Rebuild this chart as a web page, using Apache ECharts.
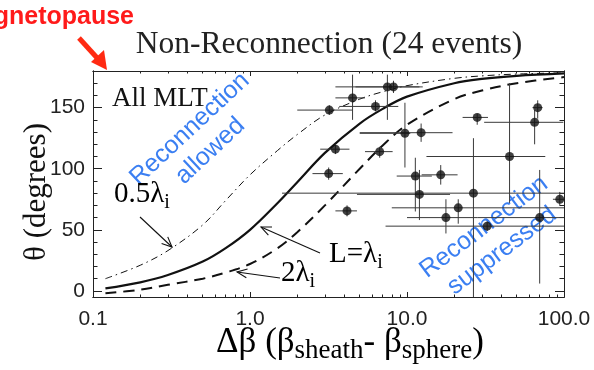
<!DOCTYPE html>
<html>
<head>
<meta charset="utf-8">
<script src="https://cdn.jsdelivr.net/npm/echarts@6/dist/echarts.min.js"></script>
<style>
  html, body { margin: 0; padding: 0; background: #ffffff; }
  #chart { width: 594px; height: 370px; }
</style>
</head>
<body>
<div id="chart"></div>
<script>
// ---- axis ticks ----
const xMajorTicks = [0.1, 1, 10, 100];
const xMinorTicks = [0.2, 0.3, 0.4, 0.5, 0.6, 0.7, 0.8, 0.9,
                     2, 3, 4, 5, 6, 7, 8, 9,
                     20, 30, 40, 50, 60, 70, 80, 90];
const yMajorTicks = [0, 50, 100, 150];
const yMinorTicks = [10, 20, 30, 40, 60, 70, 80, 90, 110, 120, 130, 140, 160, 170, 180];

// ---- theoretical suppression curves (delta beta vs shear angle) ----
const curveDb      = [0.12, 0.2, 0.3, 0.5, 0.7, 1.0, 1.5, 2, 3, 5, 7, 10, 20, 30, 50, 100];
const thetaHalfLi  = [10, 21, 33, 54, 74, 95, 115, 128, 144, 157, 163, 168, 174, 176, 177.5, 178.5];
const thetaLi      = [2, 7, 13, 24, 35, 50, 72, 89, 113, 137, 149, 159, 170, 173.5, 176, 178];
const theta2Li     = [-2, 1, 5, 10, 15, 22, 35, 48, 70, 100, 119, 136, 157, 164, 170, 175];

// ---- events: delta beta, shear angle and their ranges ----
const evDb    = [3.2, 4.5, 7.5, 8.2, 6.3, 28, 68, 65, 9.7, 12.3, 3.5, 6.7, 45, 3.17, 11.3, 16.4, 12, 26.5, 21.2, 17.7, 32.4, 70, 94, 4.15];
const evTheta = [148, 158, 167, 167, 151, 142, 150, 138, 129, 129.5, 116, 114, 110, 96, 94, 95, 79, 80, 68, 60, 53, 60, 75, 65.5];
const dbLo    = [2.0, 3.5, 3.5, 4.7, 3.7, 22.6, 63, 31, 5.0, 5.0, 2.8, 5.4, 13.3, 2.5, 8.6, 12.4, 4.8, 1.6, 8, 10, 7.3, 28, 85, 3.5];
const dbHi    = [4.5, 5.4, 12, 12.6, 8.8, 32.8, 73, 99, 10.5, 19.5, 4.3, 8.1, 76, 3.9, 14.4, 21, 18.8, 100, 100, 28, 100, 100, 100, 4.8];
const thLo    = [144, 140, 140, 162, 147, 136, 141, 120, 101, 122, 112, 109, 72, 91, 65, 87, 58, -5, 55, 47, 49, 6, 70, 61];
const thHi    = [152, 177, 177, 172, 156, 145, 156, 148, 154, 137, 120, 118, 170, 101, 109, 103, 99, 125, 75, 75, 57, 99, 81, 70];

const SERIF = '"Liberation Serif", "DejaVu Serif", serif';
const SANS = '"Liberation Sans", Arial, sans-serif';
const BLUE = '#3b7ff2';
const FRAME = '#222222';

const X_MIN = 0.1, X_MAX = 100, Y_MIN = -5, Y_MAX = 180;

function xAxis(position, ticks, len, withLabels) {
  return {
    type: 'log', logBase: 10, min: X_MIN, max: X_MAX, position: position,
    axisLine: { show: true, onZero: false, lineStyle: { color: FRAME, width: 1 } },
    axisTick: { show: true, inside: true, length: len, customValues: ticks, lineStyle: { color: FRAME, width: 1 } },
    axisLabel: withLabels ? {
      show: true, customValues: xMajorTicks, margin: 12,
      color: '#222', fontFamily: SANS, fontSize: 21,
      formatter: function (v) { return Number(v).toFixed(1); }
    } : { show: false },
    splitLine: { show: false }, minorTick: { show: false }, minorSplitLine: { show: false }
  };
}
function yAxis(position, ticks, len, withLabels) {
  return {
    type: 'value', min: Y_MIN, max: Y_MAX, position: position,
    axisLine: { show: true, onZero: false, lineStyle: { color: FRAME, width: 1 } },
    axisTick: { show: true, inside: true, length: len, customValues: ticks, lineStyle: { color: FRAME, width: 1 } },
    axisLabel: withLabels ? {
      show: true, customValues: yMajorTicks, margin: 8,
      color: '#222', fontFamily: SANS, fontSize: 21
    } : { show: false },
    splitLine: { show: false }, minorTick: { show: false }, minorSplitLine: { show: false }
  };
}

const events = evDb.map((d, i) => [d, evTheta[i], dbLo[i], dbHi[i], thLo[i], thHi[i]]);

function curve(name, values, lineStyle) {
  return {
    name: name, type: 'line', xAxisIndex: 0, yAxisIndex: 0,
    data: curveDb.map((d, i) => [d, values[i]]),
    smooth: 0.35, showSymbol: false, symbol: 'none', silent: true, clip: true,
    lineStyle: lineStyle, z: 3
  };
}

// annotation arrows with open heads
function arrow(x1, y1, x2, y2, head) {
  const a = Math.atan2(y2 - y1, x2 - x1);
  const s = head, w = 0.42;
  return [
    { type: 'line', shape: { x1: x1, y1: y1, x2: x2, y2: y2 }, style: { stroke: '#111', lineWidth: 1.1 }, z: 20 },
    { type: 'polyline', shape: { points: [
        [x2 - s * Math.cos(a - w), y2 - s * Math.sin(a - w)], [x2, y2],
        [x2 - s * Math.cos(a + w), y2 - s * Math.sin(a + w)]] },
      style: { stroke: '#111', lineWidth: 1.1, fill: null }, z: 20 }
  ];
}

const chart = echarts.init(document.getElementById('chart'), null, { renderer: 'canvas' });

const subRich = function (size, subSize, drop) {
  return {
    m: { fontFamily: SERIF, fontSize: size, color: '#111', lineHeight: size + 4, verticalAlign: 'top' },
    s: { fontFamily: SERIF, fontSize: subSize, color: '#111', lineHeight: subSize, verticalAlign: 'bottom', padding: [drop, 0, 0, 0] }
  };
};

const option = {
  backgroundColor: '#ffffff',
  animation: false,
  grid: { left: 93, right: 30, top: 71, bottom: 73, containLabel: false, outerBoundsMode: 'none', show: false },
  xAxis: [
    xAxis('bottom', xMajorTicks, 5, true),
    xAxis('bottom', xMinorTicks, 2.5, false),
    xAxis('top', xMajorTicks, 5, false),
    xAxis('top', xMinorTicks, 2.5, false)
  ],
  yAxis: [
    yAxis('left', yMajorTicks, 9, true),
    yAxis('left', yMinorTicks, 4.5, false),
    yAxis('right', yMajorTicks, 9, false),
    yAxis('right', yMinorTicks, 4.5, false)
  ],
  series: [
    curve('0.5 lambda_i', thetaHalfLi, { color: '#111', width: 1, type: [7, 4, 1.5, 4] }),
    curve('lambda_i', thetaLi, { color: '#111', width: 2.2, type: 'solid' }),
    curve('2 lambda_i', theta2Li, { color: '#111', width: 2, type: [11, 7] }),
    {
      name: 'ranges', type: 'custom', xAxisIndex: 0, yAxisIndex: 0, clip: true, silent: true, z: 4,
      data: events,
      encode: { x: 0, y: 1 },
      renderItem: function (params, api) {
        const x = api.value(0), y = api.value(1);
        const pl = api.coord([api.value(2), y]), pr = api.coord([api.value(3), y]);
        const pb = api.coord([x, api.value(4)]), pt = api.coord([x, api.value(5)]);
        return {
          type: 'group',
          children: [
            { type: 'line', shape: { x1: pl[0], y1: pl[1], x2: pr[0], y2: pr[1] }, style: { stroke: '#3a3a3a', lineWidth: 1 } },
            { type: 'line', shape: { x1: pb[0], y1: pb[1], x2: pt[0], y2: pt[1] }, style: { stroke: '#3a3a3a', lineWidth: 1 } }
          ]
        };
      }
    },
    {
      name: 'events', type: 'scatter', xAxisIndex: 0, yAxisIndex: 0, z: 5, silent: true,
      data: events.map(e => [e[0], e[1]]),
      symbol: 'circle', symbolSize: 9,
      itemStyle: { color: '#111', borderWidth: 0 }
    }
  ],
  graphic: [
    // title
    { type: 'text', x: 329, y: 45, style: { text: 'Non-Reconnection (24 events)', fontFamily: SERIF, fontSize: 31.5, fill: '#222', align: 'center', verticalAlign: 'middle' } },
    // magnetopause marker
    { type: 'text', x: 134, y: 17, style: { text: 'Magnetopause', fontFamily: SANS, fontWeight: 'bold', fontSize: 25, fill: '#ff1a1a', align: 'right', verticalAlign: 'middle' } },
    { type: 'line', shape: { x1: 79, y1: 38, x2: 99, y2: 60 }, style: { stroke: '#ff2a12', lineWidth: 5 } },
    { type: 'polygon', shape: { points: [[107, 70], [91, 62], [104, 50]] }, style: { fill: '#ff2a12' } },
    // panel label
    { type: 'text', x: 112, y: 112, style: { text: 'All MLT', fontFamily: SERIF, fontSize: 27, fill: '#111', align: 'left', verticalAlign: 'bottom' } },
    // region labels
    { type: 'text', x: 200, y: 140, rotation: 43 * Math.PI / 180,
      style: { text: 'Reconnection\nallowed', fontFamily: SANS, fontSize: 25, lineHeight: 30, fill: BLUE, align: 'center', verticalAlign: 'middle' } },
    { type: 'text', x: 493, y: 239, rotation: 37 * Math.PI / 180,
      style: { text: 'Reconnection\nsuppressed', fontFamily: SANS, fontSize: 25, lineHeight: 30, fill: BLUE, align: 'center', verticalAlign: 'middle' } },
    // curve labels
    { type: 'text', x: 114, y: 180, style: { text: '{m|0.5λ}{s|i}', rich: subRich(29, 20, 15), align: 'left', verticalAlign: 'top' } },
    { type: 'text', x: 329, y: 240, style: { text: '{m|L=λ}{s|i}', rich: subRich(29, 20, 15), align: 'left', verticalAlign: 'top' } },
    { type: 'text', x: 281, y: 259, style: { text: '{m|2λ}{s|i}', rich: subRich(29, 20, 15), align: 'left', verticalAlign: 'top' } },
    ...arrow(140, 217, 172, 247, 11),
    ...arrow(320, 253, 261, 227, 11),
    ...arrow(280, 278, 237, 272, 11),
    // axis titles
    { type: 'text', x: 37, y: 192, rotation: Math.PI / 2,
      style: { text: 'θ (degrees)', fontFamily: SERIF, fontSize: 31, fill: '#111', align: 'center', verticalAlign: 'middle' } },
    { type: 'text', x: 350, y: 325,
      style: { text: '{m|Δβ (β}{s|sheath}{m|- β}{s|sphere}{m|)}', rich: subRich(35, 27, 14), align: 'center', verticalAlign: 'top' } }
  ]
};

chart.setOption(option);
</script>
</body>
</html>
